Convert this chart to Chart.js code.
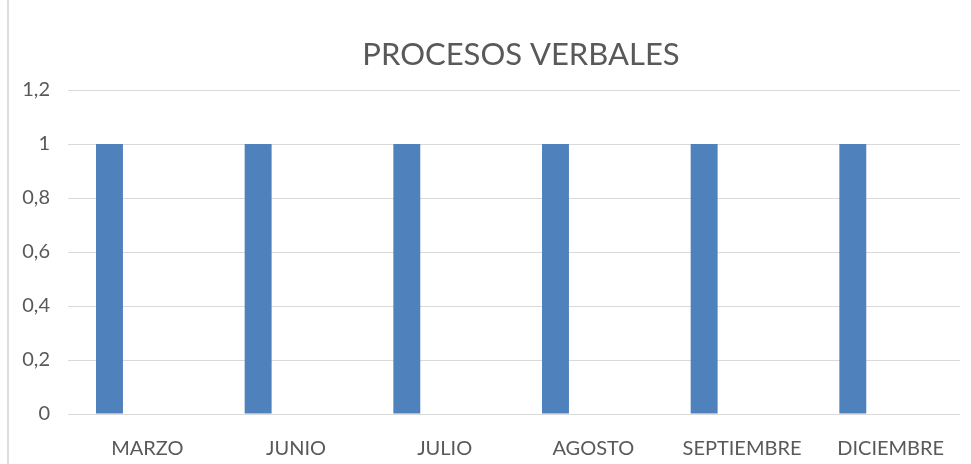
<!DOCTYPE html>
<html><head><meta charset="utf-8">
<script src="https://cdn.jsdelivr.net/npm/chart.js@4"></script>
<style>html,body{margin:0;padding:0;background:#fff}#wrap{width:971px;height:464px;position:relative}</style>
</head><body><div id="wrap"><canvas id="c" width="971" height="464"></canvas></div>
<script>
const categories = ['MARZO', 'JUNIO', 'JULIO', 'AGOSTO', 'SEPTIEMBRE', 'DICIEMBRE'];
const serie1 = [1, 1, 1, 1, 1, 1];
const serie2 = [null, null, null, null, null, null];
const yMin = 0, yMax = 1.2, yStep = 0.2;
const chartTitle = 'PROCESOS VERBALES';

const frameAndTitle = {
  id: 'frameAndTitle',
  beforeDraw(chart) {
    const ctx = chart.ctx;
    ctx.save();
    ctx.fillStyle = '#fff';
    ctx.fillRect(0, 0, chart.width, chart.height);
    ctx.fillStyle = '#dedede';
    ctx.fillRect(7, 0, 2, chart.height);
    ctx.restore();
  },
  afterDraw(chart) {
    const ctx = chart.ctx;
    ctx.save();
    ctx.fillStyle = '#595959';
    ctx.font = 'normal 31px Lato';
    ctx.textAlign = 'center';
    ctx.textBaseline = 'alphabetic';
    ctx.fillText(chartTitle, 521, 65);
    ctx.restore();
  }
};

new Chart(document.getElementById('c'), {
  type: 'bar',
  data: {
    labels: categories,
    datasets: [
      { label: 'Serie 1', data: serie1, backgroundColor: '#4F81BD', categoryPercentage: 0.884, barPercentage: 0.41 },
      { label: 'Serie 2', data: serie2, backgroundColor: '#C0504D', categoryPercentage: 0.884, barPercentage: 0.41 }
    ]
  },
  options: {
    responsive: false,
    animation: false,
    devicePixelRatio: 1,
    layout: { padding: { left: 0, right: 11, top: 90, bottom: 0 } },
    plugins: {
      legend: { display: false },
      tooltip: { enabled: false },
      title: { display: false }
    },
    scales: {
      x: {
        grid: { display: false, drawTicks: false },
        border: { display: false },
        ticks: { color: '#595959', font: { family: 'Lato', size: 20 }, padding: 23, labelOffset: 5, maxRotation: 0, autoSkip: false },
        afterFit(s) { s.height = 50; }
      },
      y: {
        min: yMin, max: yMax,
        grid: { color: '#d9d9d9', drawTicks: false },
        border: { display: false },
        ticks: {
          stepSize: yStep, color: '#595959', font: { family: 'Lato', size: 20 }, padding: 18,
          callback: v => String(Math.round(v * 10) / 10).replace('.', ',')
        },
        afterFit(s) { s.width = 68; }
      }
    }
  },
  plugins: [frameAndTitle]
});
</script>
</body></html>
